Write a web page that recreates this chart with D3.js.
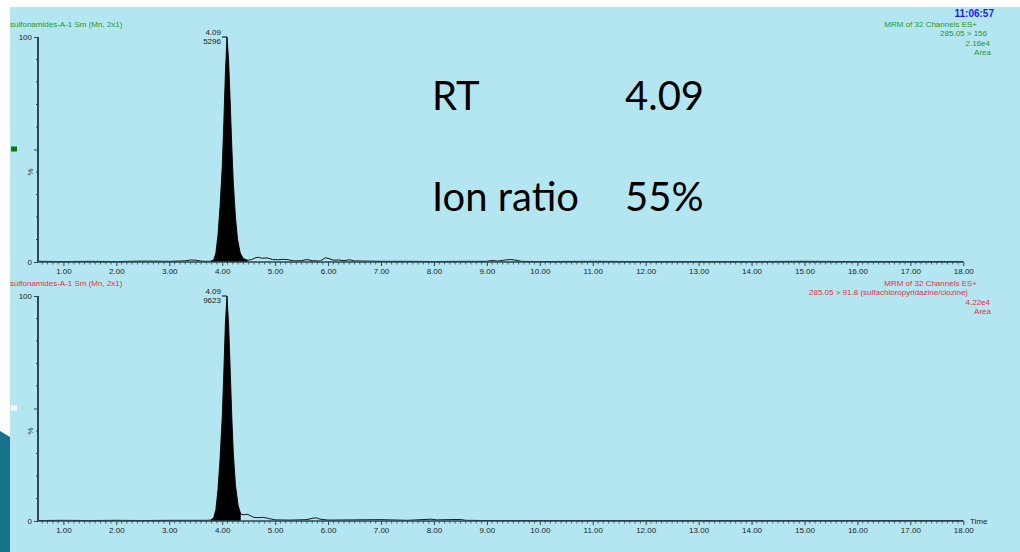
<!DOCTYPE html>
<html>
<head>
<meta charset="utf-8">
<script src="https://cdn.jsdelivr.net/npm/d3@7"></script>
<style>
  body { margin: 0; background: #ffffff; }
  svg { display: block; }
  .small { font-family: "Liberation Sans", Arial, sans-serif; font-size: 8px; }
</style>
</head>
<body>
<svg id="chart" width="1020" height="552"></svg>
<script>
// Retention-time axis (minutes)
const timeDomain = [0.52, 18.0];
const majorTicks = [1, 2, 3, 4, 5, 6, 7, 8, 9, 10, 11, 12, 13, 14, 15, 16, 17, 18];
const tickLabels = ["1.00", "2.00", "3.00", "4.00", "5.00", "6.00", "7.00", "8.00", "9.00",
                    "10.00", "11.00", "12.00", "13.00", "14.00", "15.00", "16.00", "17.00", "18.00"];

// Trace 1: 285.05 > 156 (relative intensity, %)
const trace1Time = [0.52, 1.0, 1.5, 2.0, 2.5, 3.0, 3.3, 3.4, 3.5, 3.6, 3.7, 3.78,
  3.84, 3.88, 3.92, 3.96, 4.00, 4.03, 4.06, 4.09, 4.12, 4.15, 4.18, 4.21, 4.25, 4.29, 4.34, 4.40, 4.48,
  4.55, 4.62, 4.68, 4.75, 4.85, 4.95, 5.05, 5.15, 5.25, 5.35, 5.5, 5.6, 5.7, 5.85, 5.95, 6.02, 6.1,
  6.2, 6.3, 6.4, 6.5, 6.7, 7.0, 7.5, 8.0, 8.5, 9.0, 9.1, 9.2, 9.35, 9.45, 9.55, 9.65, 10.0, 11.0,
  12.0, 13.0, 14.0, 15.0, 16.0, 17.0, 18.0];
const trace1Pct = [0.3, 0.2, 0.3, 0.2, 0.4, 0.3, 0.5, 0.9, 0.8, 0.4, 0.3, 0.3,
  1, 4, 12, 25, 42, 62, 84, 100, 90, 72, 52, 35, 20, 10, 4, 1.5, 0.8,
  1.0, 1.8, 2.1, 1.7, 1.8, 1.1, 1.0, 1.2, 1.0, 0.5, 0.6, 1.1, 0.6, 0.4, 1.9, 1.5, 0.8,
  0.9, 0.6, 1.0, 0.5, 0.4, 0.3, 0.3, 0.2, 0.3, 0.3, 0.7, 0.4, 0.9, 1.1, 0.8, 0.3, 0.2, 0.3,
  0.2, 0.2, 0.2, 0.3, 0.2, 0.2, 0.2];
const trace1Fill = [3.78, 4.48];

// Trace 2: 285.05 > 91.8 (relative intensity, %)
const trace2Time = [0.52, 1.0, 1.5, 2.0, 2.5, 3.0, 3.5, 3.7, 3.78,
  3.84, 3.88, 3.92, 3.96, 4.00, 4.03, 4.06, 4.09, 4.12, 4.15, 4.18, 4.21, 4.25, 4.30, 4.35,
  4.42, 4.47, 4.52, 4.60, 4.68, 4.78, 4.88, 5.0, 5.3, 5.6, 5.7, 5.78, 5.85, 6.0, 6.5, 7.0, 7.5,
  7.95, 8.05, 8.5, 8.6, 9.0, 10.0, 11.0, 12.0, 13.0, 14.0, 15.0, 16.0, 17.0, 18.0];
const trace2Pct = [0.2, 0.3, 0.2, 0.3, 0.2, 0.3, 0.3, 0.3, 0.4,
  1.5, 5, 14, 28, 46, 66, 88, 100, 88, 68, 47, 30, 16, 7, 3,
  2.8, 3.0, 2.5, 1.6, 1.5, 1.6, 1.1, 0.5, 0.4, 0.6, 1.2, 1.4, 0.8, 0.4, 0.5, 0.6, 0.3,
  0.8, 0.5, 0.7, 0.3, 0.2, 0.2, 0.2, 0.2, 0.2, 0.2, 0.2, 0.2, 0.2, 0.2];
const trace2Fill = [3.78, 4.35];

// Header texts
const titles = ["sulfonamides-A-1 Sm (Mn, 2x1)", "sulfonamides-A-1 Sm (Mn, 2x1)"];
const channelInfo = [
  ["MRM of 32 Channels ES+", "285.05 > 156", "2.16e4", "Area"],
  ["MRM of 32 Channels ES+", "285.05 > 91.8 (sulfachloropyridazine/clozine)", "4.22e4", "Area"]
];
const peakRT = ["4.09", "4.09"];
const peakArea = ["5296", "9623"];
const clock = "11:06:57";
const summaryLabels = ["RT", "Ion ratio"];
const summaryValues = ["4.09", "55%"];

const svg = d3.select("#chart");

// slide decoration and light-blue plot canvas
svg.append("polygon")
  .attr("points", "0,431 10,437 10,552 0,552")
  .attr("fill", "#17708c");
svg.append("rect").attr("x", 10).attr("y", 7).attr("width", 1010).attr("height", 545)
  .attr("fill", "#b4e6f1");

const x = d3.scaleLinear().domain(timeDomain).range([38, 963.3]);

const panels = [
  { time: trace1Time, pct: trace1Pct, fill: trace1Fill, y0: 262, y100: 37, color: "#2a962a",
    title: titles[0], info: channelInfo[0], rt: peakRT[0], area: peakArea[0], marker: "#0b7a0b", showTime: false },
  { time: trace2Time, pct: trace2Pct, fill: trace2Fill, y0: 521, y100: 296, color: "#e82d3a",
    title: titles[1], info: channelInfo[1], rt: peakRT[1], area: peakArea[1], marker: "#ffffff", showTime: true }
];

const axisColor = "#2c4850";

panels.forEach(p => {
  const y = d3.scaleLinear().domain([0, 100]).range([p.y0, p.y100]);
  const g = svg.append("g");

  // title and channel description
  g.append("text").attr("class", "small").attr("x", 10).attr("y", p.y100 - 10)
    .attr("fill", p.color).text(p.title);
  const infoRight = [977, p.showTime ? 968 : 987, 990, 991];
  p.info.forEach((t, i) => {
    g.append("text").attr("class", "small").attr("text-anchor", "end")
      .attr("x", infoRight[i]).attr("y", p.y100 - 10 + i * 9.3)
      .attr("fill", p.color).text(t);
  });

  // small channel marker
  g.append("rect").attr("x", 11).attr("y", y(50) - 3).attr("width", 6).attr("height", 5)
    .attr("fill", p.marker);

  // peak area fill
  const pts = p.time.map((t, i) => [t, p.pct[i]]);
  const fillPts = pts.filter(d => d[0] >= p.fill[0] && d[0] <= p.fill[1]);
  g.append("path")
    .datum(fillPts)
    .attr("d", d3.area().x(d => x(d[0])).y0(y(0)).y1(d => y(d[1])))
    .attr("fill", "#000");

  // chromatogram trace
  g.append("path")
    .datum(pts)
    .attr("d", d3.line().x(d => x(d[0])).y(d => y(d[1])))
    .attr("fill", "none").attr("stroke", "#000").attr("stroke-width", 0.9);

  // x axis
  const xAxis = d3.axisBottom(x).tickValues(majorTicks)
    .tickFormat((d, i) => tickLabels[i]).tickSize(4).tickPadding(2);
  const ax = g.append("g").attr("transform", `translate(0,${p.y0})`).call(xAxis);
  ax.select(".domain").attr("d", `M${x(timeDomain[0])},0H${x(18)}`).attr("stroke", axisColor).attr("stroke-width", 1.5);
  ax.selectAll(".tick line").attr("stroke", axisColor);
  ax.selectAll(".tick text").attr("class", "small").attr("fill", "#222").style("font-size", "8px");
  const minor = d3.range(6, 181).map(v => v / 10).filter(v => !majorTicks.includes(v));
  ax.selectAll(".minor").data(minor).join("line")
    .attr("x1", d => x(d)).attr("x2", d => x(d)).attr("y1", 0).attr("y2", 2.5)
    .attr("stroke", axisColor).attr("stroke-width", 0.8);

  if (p.showTime) {
    g.append("text").attr("class", "small").attr("x", 970).attr("y", p.y0 + 3)
      .attr("fill", "#222").text("Time");
  }

  // y axis
  const yAxis = d3.axisLeft(y).tickValues([0, 50, 100]).tickFormat(d => d === 50 ? "" : d)
    .tickSize(4).tickPadding(2);
  const ay = g.append("g").attr("transform", "translate(38,0)").call(yAxis);
  ay.select(".domain").attr("d", `M0,${p.y0}V${p.y100}`).attr("stroke", axisColor).attr("stroke-width", 2);
  ay.selectAll(".tick line").attr("stroke", axisColor);
  ay.selectAll(".tick text").attr("class", "small").attr("fill", "#222").style("font-size", "8px");
  const yMinor = [10, 20, 30, 40, 60, 70, 80, 90];
  ay.selectAll(".minor").data(yMinor).join("line")
    .attr("x1", -2).attr("x2", 0).attr("y1", d => y(d)).attr("y2", d => y(d))
    .attr("stroke", axisColor).attr("stroke-width", 1.2);
  g.append("text").attr("class", "small").attr("transform", `translate(33,${y(40)}) rotate(-90)`)
    .attr("text-anchor", "middle").attr("fill", "#333").text("%");

  // apex annotation
  const apexT = 4.09;
  const ax0 = x(apexT), ay0 = y(100);
  g.append("line").attr("x1", ax0 - 5).attr("x2", ax0).attr("y1", ay0).attr("y2", ay0)
    .attr("stroke", "#000").attr("stroke-width", 1);
  g.append("text").attr("class", "small").attr("text-anchor", "end").attr("x", ax0 - 6)
    .attr("y", ay0 - 2.5).attr("fill", "#222").text(p.rt);
  g.append("text").attr("class", "small").attr("text-anchor", "end").attr("x", ax0 - 6)
    .attr("y", ay0 + 6.5).attr("fill", "#222").text(p.area);
});

// acquisition clock
svg.append("text").attr("x", 994).attr("y", 17).attr("text-anchor", "end")
  .attr("fill", "#1a1af0").style("font-family", "Liberation Sans, Arial, sans-serif")
  .style("font-size", "10px").style("font-weight", "bold").text(clock);

// summary text
summaryLabels.forEach((lab, i) => {
  const by = [110, 211][i];
  svg.append("text").attr("x", 432).attr("y", by).attr("fill", "#000")
    .style("font-family", "Lato, sans-serif").style("font-size", "40px").text(lab);
  svg.append("text").attr("x", 625).attr("y", by).attr("fill", "#000")
    .style("font-family", "Lato, sans-serif").style("font-size", "40px").text(summaryValues[i]);
});
</script>
</body>
</html>
